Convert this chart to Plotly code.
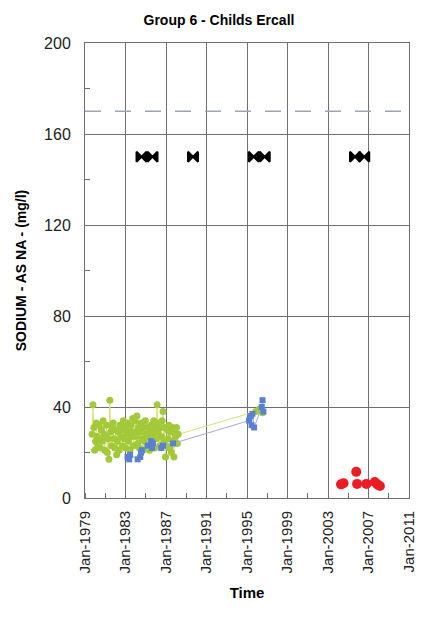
import plotly.graph_objects as go

# Sodium (as Na) results, mg/l, for Group 6 - Childs Ercall
green_dates = [
    "1979-09-15", "1979-10-15", "1979-11-15", "1979-12-15", "1980-01-15", "1980-02-15",
    "1980-03-15", "1980-04-15", "1980-05-15", "1980-06-15", "1980-07-15", "1980-08-15",
    "1980-09-15", "1980-10-15", "1980-11-15", "1980-12-15", "1981-01-15", "1981-02-15",
    "1981-03-15", "1981-04-15", "1981-05-15", "1981-06-15", "1981-07-15", "1981-08-15",
    "1981-09-15", "1981-10-15", "1981-11-15", "1981-12-15", "1982-01-15", "1982-02-15",
    "1982-03-15", "1982-04-15", "1982-05-15", "1982-06-15", "1982-07-15", "1982-08-15",
    "1982-09-15", "1982-10-15", "1982-11-15", "1982-12-15", "1983-01-15", "1983-02-15",
    "1983-03-15", "1983-04-15", "1983-05-15", "1983-06-15", "1983-07-15", "1983-08-15",
    "1983-09-15", "1983-10-15", "1983-11-15", "1983-12-15", "1984-01-15", "1984-02-15",
    "1984-03-15", "1984-04-15", "1984-05-15", "1984-06-15", "1984-07-15", "1984-08-15",
    "1984-09-15", "1984-10-15", "1984-11-15", "1984-12-15", "1985-01-15", "1985-02-15",
    "1985-03-15", "1985-04-15", "1985-05-15", "1985-06-15", "1985-07-15", "1985-08-15",
    "1985-09-15", "1985-10-15", "1985-11-15", "1985-12-15", "1986-01-15", "1986-02-15",
    "1986-03-15", "1986-04-15", "1986-05-15", "1986-06-15", "1986-07-15", "1986-08-15",
    "1986-09-15", "1986-10-15", "1986-11-15", "1986-12-15", "1987-01-15", "1987-02-15",
    "1987-03-15", "1987-04-15", "1987-05-15", "1987-06-15", "1987-07-15", "1987-08-15",
    "1987-09-15", "1987-10-15", "1987-11-15", "1987-12-15", "1988-01-15", "1988-02-15",
    "1988-03-15", "1995-11-15", "1996-03-15", "1996-07-15",
]
green_values = [
    28, 41, 31, 21, 25, 33,
    27, 23, 32, 26, 22, 30,
    25, 34, 28, 21, 27, 32,
    20, 26, 17, 43, 29, 23,
    31, 33, 26, 22, 30, 19,
    25, 29, 21, 32, 27, 30,
    23, 34, 26, 31, 22, 28,
    33, 25, 30, 21, 32, 27,
    35, 23, 29, 34, 27, 36,
    24, 31, 22, 29, 33, 26,
    21, 31, 25, 34, 28, 23,
    31, 27, 21, 30, 32, 25,
    28, 34, 22, 31, 26, 41,
    29, 33, 23, 31, 27, 34,
    38, 25, 31, 18, 23, 30,
    26, 32, 22, 29, 20, 31,
    25, 18, 30, 27, 31, 24,
    28, 38, 39, 37.5,
]

blue_dates = [
    "1983-03-15", "1983-05-15", "1983-06-15", "1984-03-15", "1984-06-15", "1984-07-15",
    "1984-08-15", "1985-03-15", "1985-07-15", "1985-08-15", "1985-09-15", "1986-07-15",
    "1986-09-15", "1987-09-15", "1995-03-15", "1995-05-15", "1995-06-15", "1995-07-15",
    "1995-09-15", "1996-06-15", "1996-07-15", "1996-08-15",
]
blue_values = [
    18, 17, 19, 17, 18, 20,
    21, 23, 25, 22, 24, 22,
    23, 24, 34, 36, 32, 37,
    31, 40, 43, 38,
]

red_dates = [
    "2004-04-15", "2004-07-15", "2005-10-15", "2005-11-15",
    "2006-10-15", "2007-08-15", "2007-11-15", "2008-02-15",
]
red_values = [6, 6.5, 11.5, 6.2, 6.2, 7, 6, 5.3]

# Flagged samples plotted along the 150 mg/l row
flag_dates = [
    "1984-08-01", "1985-09-01", "1989-09-01", "1995-09-01",
    "1996-10-01", "2005-09-01", "2006-08-01",
]
flag_values = [150, 150, 150, 150, 150, 150, 150]

# Reference level
limit_dates = ["1979-01-01", "2011-01-01"]
limit_values = [170, 170]

x_tick_vals = ["1979-01-01", "1983-01-01", "1987-01-01", "1991-01-01", "1995-01-01",
               "1999-01-01", "2003-01-01", "2007-01-01", "2011-01-01"]
x_tick_text = ["Jan-1979", "Jan-1983", "Jan-1987", "Jan-1991", "Jan-1995",
               "Jan-1999", "Jan-2003", "Jan-2007", "Jan-2011"]
y_tick_vals = [0, 40, 80, 120, 160, 200]

FONT = "Liberation Sans, Arial, sans-serif"
GRID = "#6f6f6f"

fig = go.Figure()

fig.add_trace(go.Scatter(
    x=limit_dates, y=limit_values, mode="lines",
    line=dict(color="#9ea3b8", width=1.5, dash="16px,14px"),
    hoverinfo="skip",
))
fig.add_trace(go.Scatter(
    x=green_dates, y=green_values, mode="lines+markers",
    line=dict(color="#d6e27a", width=1),
    marker=dict(color="#a3c93a", size=7, symbol="circle"),
))
fig.add_trace(go.Scatter(
    x=blue_dates, y=blue_values, mode="lines+markers",
    line=dict(color="#a3a8e0", width=1),
    marker=dict(color="#5a80d4", size=6, symbol="square"),
))
fig.add_trace(go.Scatter(
    x=red_dates, y=red_values, mode="markers",
    marker=dict(color="#ec1c24", size=10, symbol="circle"),
))
fig.add_trace(go.Scatter(
    x=flag_dates, y=flag_values, mode="markers",
    marker=dict(color="#000000", size=10, symbol="bowtie",
                line=dict(color="#000000", width=2)),
))

fig.update_layout(
    width=426, height=619,
    margin=dict(l=85, r=9, t=43, b=121),
    paper_bgcolor="white", plot_bgcolor="white",
    showlegend=False,
    font=dict(family=FONT, color="#000000"),
    title=dict(text="<b>Group 6 - Childs Ercall</b>", xref="container", x=0.514,
               xanchor="center", yref="container", y=0.967, yanchor="middle",
               font=dict(size=14, family=FONT)),
)

fig.update_xaxes(
    type="date", range=["1979-01-01", "2011-01-01"],
    tickvals=x_tick_vals, ticktext=x_tick_text, tickangle=-90,
    tickfont=dict(size=15, color="#222222"),
    showgrid=True, gridcolor=GRID, gridwidth=1,
    showline=True, linecolor=GRID, linewidth=1, mirror=True,
    ticks="", zeroline=False,
    minor=dict(dtick="M24", tick0="1981-01-01", ticks="inside", ticklen=5,
               tickcolor=GRID, showgrid=False),
    title=dict(text="<b>Time</b>", font=dict(size=15, family=FONT), standoff=14),
    ticklabelstandoff=6,
)
fig.update_yaxes(
    range=[0, 200], tickvals=y_tick_vals,
    tickfont=dict(size=16, color="#222222"),
    showgrid=True, gridcolor=GRID, gridwidth=1,
    showline=True, linecolor=GRID, linewidth=1, mirror=True,
    ticks="", zeroline=False,
    minor=dict(dtick=40, tick0=20, ticks="inside", ticklen=5,
               tickcolor=GRID, showgrid=False),
    title=dict(text="<b>SODIUM - AS NA - (mg/l)</b>", font=dict(size=14, family=FONT),
               standoff=14),
    ticklabelstandoff=10,
)

fig.write_html("out.html")
